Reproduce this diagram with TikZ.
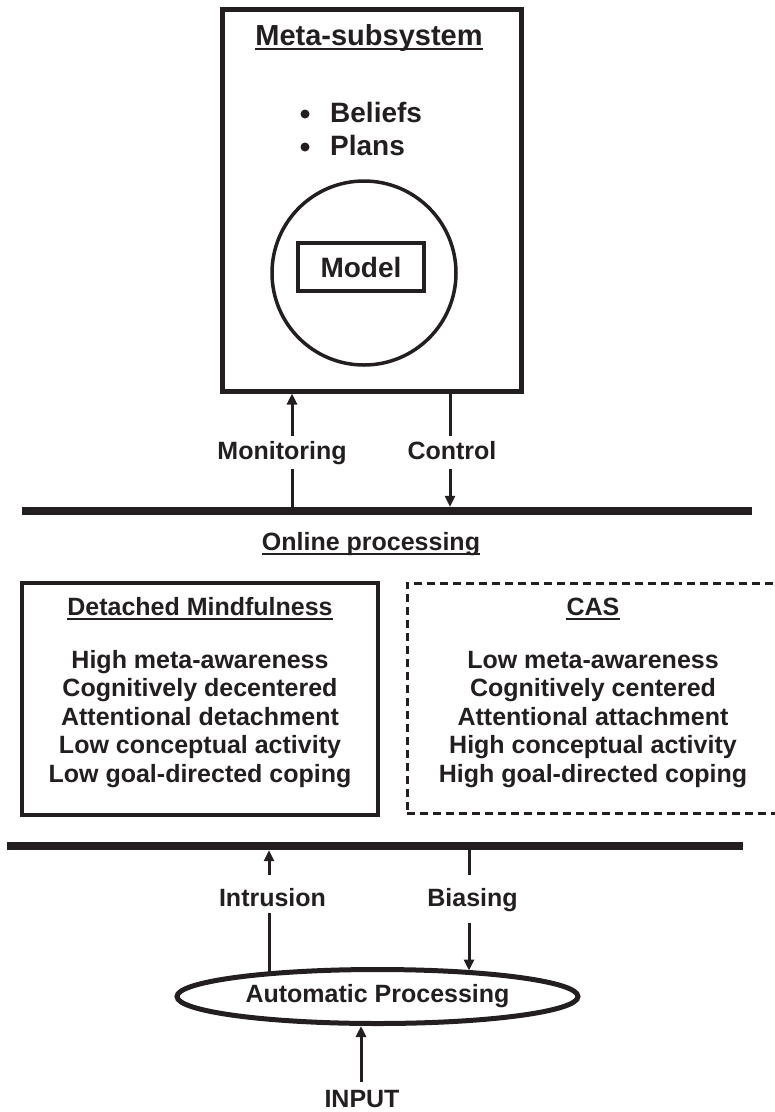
\documentclass[tikz,border=0pt]{standalone}
\usepackage{fontspec}
\setmainfont{Liberation Sans}
\usetikzlibrary{arrows.meta,shapes.geometric,calc}
\definecolor{ink}{HTML}{231F20}

\begin{document}
\begin{tikzpicture}[x=1pt,y=-1pt,color=ink,
  body/.style={font=\bfseries\fontsize{25}{30}\selectfont, inner sep=0pt},
  big/.style={font=\bfseries\fontsize{28}{33}\selectfont, inner sep=0pt},
  lbl/.style={body, inner xsep=2pt},
  arr/.style={line width=3pt, -{Triangle[length=11pt,width=10pt]}},
  conn/.style={line width=3pt},
  bar/.style={fill=ink, inner sep=0pt, minimum height=8pt},
  ul/.style={line width=2pt},
  dot/.style={circle, fill=ink, inner sep=0pt, minimum size=9pt}]

\clip (0,0) rectangle (775,1112);

% meta-level subsystem
\node[draw, line width=5pt, minimum width=299pt, minimum height=382pt, inner sep=0pt] (meta) at (371.5,200) {};
\node[font=\bfseries\fontsize{29}{34}\selectfont, inner sep=0pt, anchor=base] (mtitle) at (369,45) {Meta-subsystem};
\draw[ul] ([yshift=-4pt]mtitle.base west) -- ([yshift=-4pt]mtitle.base east);
\node[dot] (b1) at (305,114) {};
\node[big, anchor=base west] (bel) at (330,122) {Beliefs};
\node[dot] (b2) at (305,147) {};
\node[big, anchor=base west] (pla) at (330,155) {Plans};
\node[circle, draw, line width=3.5pt, minimum size=184pt, inner sep=0pt] (circ) at (364,273) {};
\node[big, draw, line width=3.5pt, minimum width=126pt, minimum height=48pt] (model) at (361,267) {Model};

% processing levels
\node[bar, minimum width=730pt] (bar1) at (387,511) {};
\node[bar, minimum width=736pt] (bar2) at (375,846) {};

% monitoring and control
\coordinate (xm) at (292,0);
\coordinate (xc) at (450,0);
\node[lbl, text height=18pt, text depth=5pt, inner ysep=5pt, anchor=base] (mon) at (282,459) {Monitoring};
\node[lbl, text height=18pt, text depth=5pt, inner ysep=5pt, anchor=base] (ctl) at (452,459) {Control};
\draw[conn] (bar1.north -| xm) -- (mon.south -| xm);
\draw[arr] (mon.north -| xm) -- (meta.south -| xm);
\draw[conn] (meta.south -| xc) -- (ctl.north -| xc);
\draw[arr] (ctl.south -| xc) -- (bar1.north -| xc);

% online processing
\node[body, anchor=base] (onl) at (371,550) {Online processing};
\draw[ul] ([yshift=-4pt]onl.base west) -- ([yshift=-4pt]onl.base east);

% detached mindfulness
\node[draw, line width=4pt, minimum width=356pt, minimum height=232pt, inner sep=0pt] (dm) at (200,699) {};
\node[body, anchor=base] (dmt) at (200,615) {Detached Mindfulness};
\draw[ul] ([yshift=-4pt]dmt.base west) -- ([yshift=-4pt]dmt.base east);
\foreach \t [count=\i] in {High meta-awareness, Cognitively decentered, Attentional detachment, Low conceptual activity, Low goal-directed coping}
  \node[body, anchor=base] (dm\i) at (200,{639.5+28.5*\i}) {\t};

% cognitive attentional syndrome
\node[draw, line width=3pt, dash pattern=on 8pt off 5pt, minimum width=393pt, minimum height=230pt, inner sep=0pt] (cas) at (603.5,698) {};
\node[body, anchor=base] (cast) at (593,615) {CAS};
\draw[ul] ([yshift=-4pt]cast.base west) -- ([yshift=-4pt]cast.base east);
\foreach \t [count=\i] in {Low meta-awareness, Cognitively centered, Attentional attachment, High conceptual activity, High goal-directed coping}
  \node[body, anchor=base] (cas\i) at (593,{639.5+28.5*\i}) {\t};

% automatic processing
\node[ellipse, draw, line width=5pt, minimum width=401pt, minimum height=54pt, inner sep=0pt, font=\bfseries\fontsize{25}{30}\selectfont] (ap) at (377.5,996.5) {Automatic Processing};
\coordinate (ia) at ($(ap.center)+(-108.5,-24)$);
\coordinate (ba) at ($(ap.center)+(91.5,-26)$);
\node[lbl, text height=24pt, text depth=0pt, inner ysep=7pt, anchor=base] (intr) at (272.5,906) {Intrusion};
\node[lbl, text height=19pt, text depth=5pt, inner ysep=12pt, anchor=base] (bias) at (472.5,906) {Biasing};
\draw[conn] (ia) -- (intr.south -| ia);
\draw[arr] (intr.north -| ia) -- (bar2.south -| ia);
\draw[conn] (bar2.south -| ba) -- (bias.north -| ba);
\draw[arr] (bias.south -| ba) -- (ba);

% input
\coordinate (xi) at (361,0);
\node[lbl, text height=18pt, text depth=0pt, inner ysep=7pt, anchor=base] (inp) at (362,1107) {INPUT};
\draw[arr] (inp.north -| xi) -- (ap.south -| xi);
\end{tikzpicture}
\end{document}
